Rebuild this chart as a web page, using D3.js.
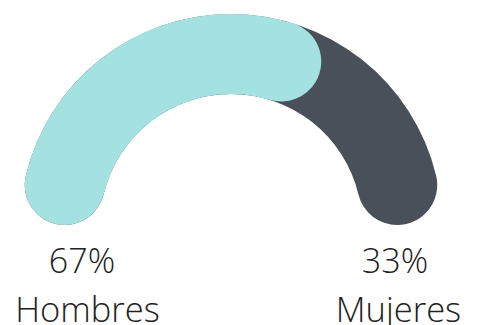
<!DOCTYPE html>
<html>
<head>
<meta charset="utf-8">
<script src="https://cdn.jsdelivr.net/npm/d3@7"></script>
<style>
  body { margin: 0; background: #fff; }
  text { font-family: "Open Sans", sans-serif; font-weight: 300; fill: #222; }
</style>
</head>
<body>
<svg width="478" height="325"></svg>
<script>
const categories = ['Hombres', 'Mujeres'];
const values = [67, 33];
const colors = ['#a4e2e1', '#4a5059'];

const svg = d3.select('svg');

const cx = 231;
const cy = 225;
const outerRadius = 211;
const innerRadius = 131;

// percent -> angle along the half circle
const angle = d3.scaleLinear()
  .domain([0, 100])
  .range([-Math.PI / 2, Math.PI / 2]);

const arc = d3.arc()
  .innerRadius(innerRadius)
  .outerRadius(outerRadius)
  .cornerRadius((outerRadius - innerRadius) / 2);

const g = svg.append('g')
  .attr('transform', `translate(${cx}, ${cy})`);

// background track is the second category, first one drawn on top
g.append('path')
  .attr('fill', colors[1])
  .attr('d', arc({ startAngle: angle(0), endAngle: angle(100) }));

g.append('path')
  .attr('fill', colors[0])
  .attr('d', arc({ startAngle: angle(0), endAngle: angle(values[0]) }));

const pctX = [82, 395];
const nameX = [87.5, 398.5];

categories.forEach((c, i) => {
  svg.append('text')
    .attr('x', pctX[i])
    .attr('y', 273)
    .attr('text-anchor', 'middle')
    .attr('font-size', 34)
    .text(values[i] + '%');
  svg.append('text')
    .attr('x', nameX[i])
    .attr('y', 322)
    .attr('text-anchor', 'middle')
    .attr('font-size', 34.5)
    .text(c);
});
</script>
</body>
</html>
